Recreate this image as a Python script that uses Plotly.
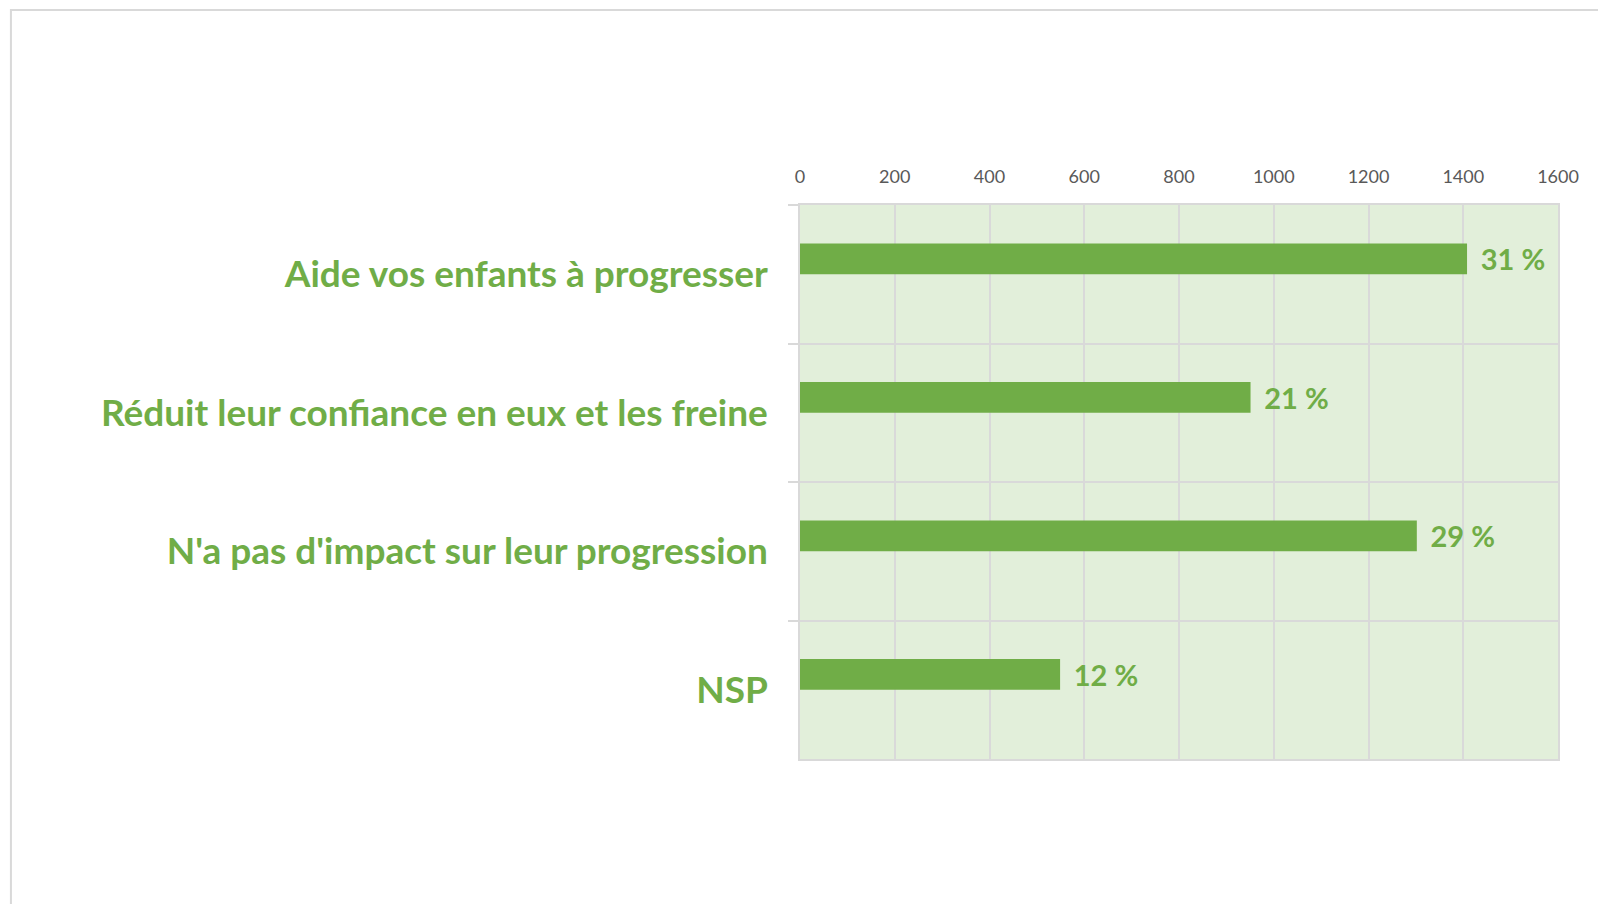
import plotly.graph_objects as go

# Données
categories = [
    "Aide vos enfants à progresser",
    "Réduit leur confiance en eux et les freine",
    "N'a pas d'impact sur leur progression",
    "NSP",
]
counts = [1408, 951, 1302, 549]
percents = [31, 21, 29, 12]
x_ticks = [0, 200, 400, 600, 800, 1000, 1200, 1400, 1600]

GREEN = "#70AD47"
PLOT_BG = "#E2EFDA"
GRID = "#D9D9D9"
TICK_TEXT = "#595959"

fig = go.Figure(go.Bar(
    x=counts,
    y=categories,
    orientation="h",
    width=0.222,
    offset=-0.222,
    marker={"color": GREEN, "line": {"width": 0}},
    text=[f"{p} %" for p in percents],
    texttemplate=" \u2009%{text}",
    textposition="outside",
    constraintext="none",
    cliponaxis=False,
    textfont={"family": "Lato", "size": 29, "color": GREEN, "weight": "bold"},
    hoverinfo="skip",
))

# the page body adds 8px of margin, so the figure is shrunk by that amount
fig.update_layout(
    width=1598,
    height=896,
    paper_bgcolor="white",
    plot_bgcolor=PLOT_BG,
    showlegend=False,
    margin={"l": 792, "r": 48, "t": 197, "b": 145},
    font={"family": "Lato", "color": TICK_TEXT},
    shapes=[{
        "type": "rect", "xref": "paper", "yref": "paper",
        "x0": -1.041, "x1": 1.2, "y0": -0.5, "y1": 1.352,
        "line": {"color": GRID, "width": 2},
        "layer": "below",
    }],
)

fig.update_xaxes(
    side="top",
    range=[0, 1600],
    tickvals=x_ticks,
    ticktext=[str(v) for v in x_ticks],
    tickfont={"family": "Lato", "size": 18, "color": TICK_TEXT},
    showgrid=True,
    gridcolor=GRID,
    gridwidth=1.5,
    zeroline=False,
    showline=True,
    linecolor=GRID,
    linewidth=1.5,
    mirror=True,
    ticks="",
    ticklabelstandoff=13,
)

fig.update_yaxes(
    autorange="reversed",
    tickson="boundaries",
    ticks="outside",
    ticklen=10,
    tickcolor=GRID,
    tickwidth=1.5,
    showgrid=True,
    gridcolor=GRID,
    gridwidth=1.5,
    showline=True,
    linecolor=GRID,
    linewidth=1.5,
    mirror=True,
    tickfont={"family": "Lato", "size": 37, "color": GREEN, "weight": "bold"},
    ticklabelstandoff=23,
)

fig.write_html("out.html")
